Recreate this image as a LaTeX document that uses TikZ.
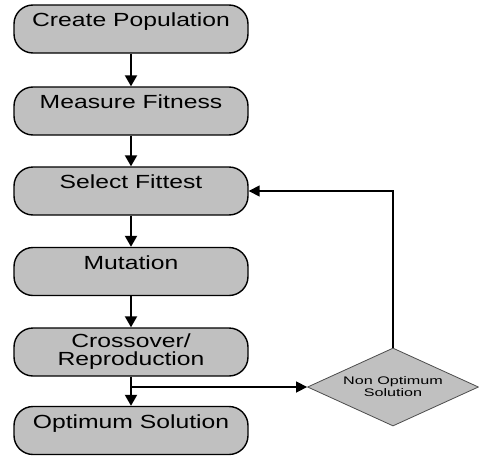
\documentclass[tikz,border=0pt]{standalone}
\usepackage{fontspec}
\setmainfont{Liberation Sans}
\newfontfamily\boxfont[FakeStretch=1.3]{Liberation Sans}
\newfontfamily\dfont[FakeStretch=1.47]{Liberation Sans}
\usetikzlibrary{shapes.geometric,arrows.meta}
\definecolor{boxgray}{RGB}{192,192,192}
\tikzset{
  procbox/.style={draw=black, fill=boxgray, line width=1.4pt, rounded corners=19pt,
    minimum width=234pt, minimum height=48pt, inner sep=0pt, align=center,
    font=\boxfont\fontsize{19}{18}\selectfont},
  decbox/.style={draw=black!70, fill=boxgray, line width=0.8pt, diamond, aspect=2.19,
    minimum width=171pt, minimum height=78pt, inner sep=0pt, align=center,
    font=\dfont\fontsize{11}{12}\selectfont},
  flow/.style={line width=2pt, -{Triangle[length=11pt,width=12pt]}},
  sideflow/.style={line width=1.5pt, -{Triangle[length=11pt,width=11pt]}}
}
\begin{document}
\begin{tikzpicture}[x=1pt,y=-1pt]
\useasboundingbox (0,0) rectangle (479,455);
\node[procbox] (b1) at (131,29) {Create Population\\ };
\node[procbox] (b2) at (131,111) {Measure Fitness\\ };
\node[procbox] (b3) at (131,191) {Select Fittest\\ };
\node[procbox] (b4) at (131,271.5) {Mutation\\ };
\node[procbox] (b5) at (131,352) {Crossover/\\Reproduction};
\node[procbox] (b6) at (131,430.5) {Optimum Solution\\ };
\node[decbox] (d) at (393,387) {Non Optimum\\Solution};
\coordinate (br) at (131,387);
\draw[flow] (b1) -- (b2);
\draw[flow] (b2) -- (b3);
\draw[flow] (b3) -- (b4);
\draw[flow] (b4) -- (b5);
\draw[flow] (b5) -- (b6);
\draw[sideflow] (br) -- (d.west);
\draw[sideflow] (d.north) |- (b3.east);
\end{tikzpicture}
\end{document}
